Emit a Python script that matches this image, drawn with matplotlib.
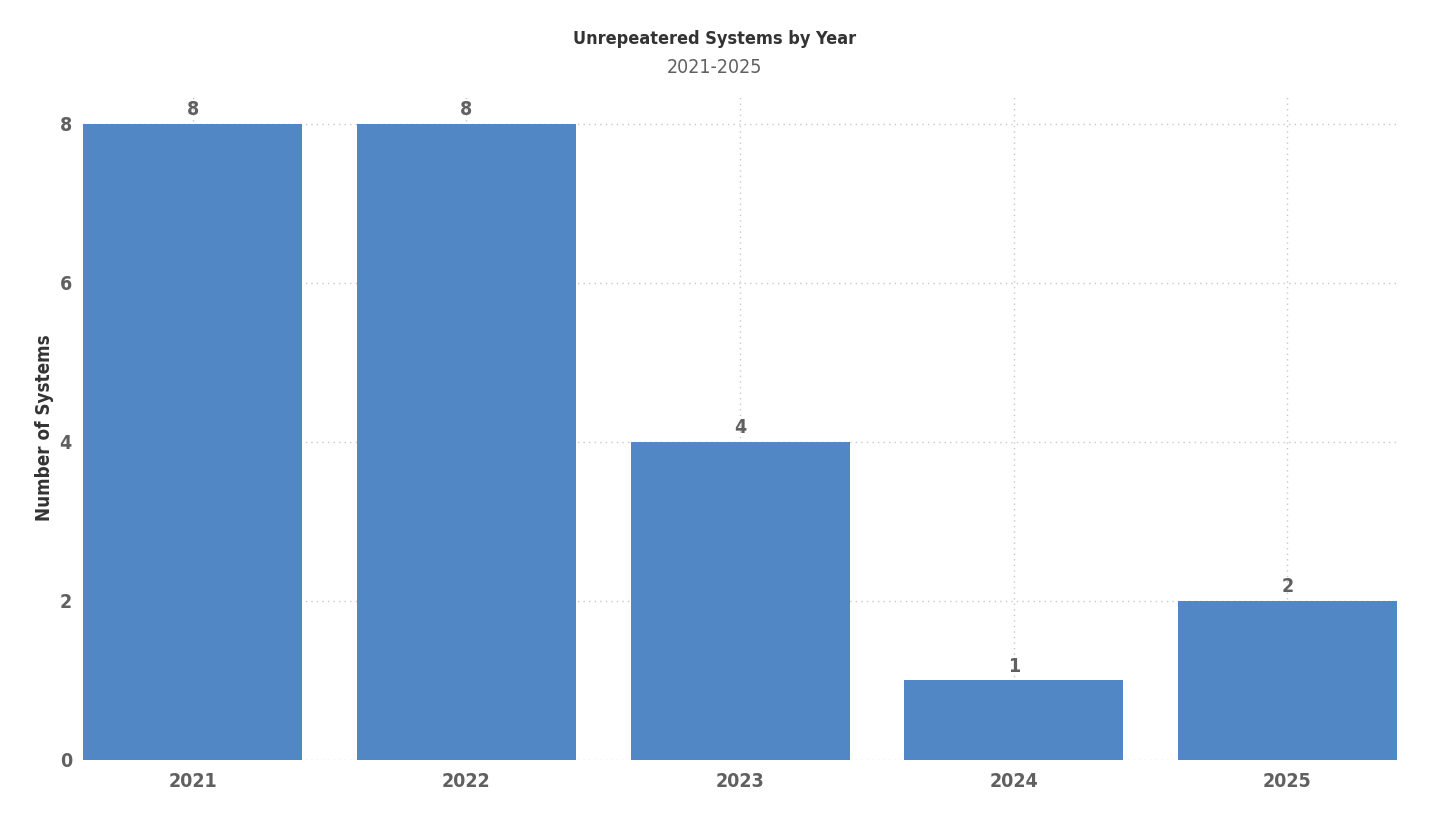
import matplotlib
matplotlib.use('Agg')
import matplotlib.pyplot as plt

years = ['2021', '2022', '2023', '2024', '2025']
systems = [8, 8, 4, 1, 2]
y_ticks = [0, 2, 4, 6, 8]

plt.rcParams['font.family'] = ['DejaVu Sans']
plt.rcParams['font.stretch'] = 'condensed'

cor_barra = '#5287C6'
cor_texto = '#606060'

fig = plt.figure(figsize=(14.29, 8.25), dpi=100)
ax = fig.add_axes([0.0581, 0.0788, 0.9195, 0.806])

x = list(range(len(years)))
ax.bar(x, systems, width=0.8, color=cor_barra, zorder=2)

for i, v in enumerate(systems):
  ax.text(i, v + 0.06, str(v), ha='center', va='bottom', fontsize=14,
          fontweight='bold', color=cor_texto, zorder=3)

ax.set_xlim(-0.4, 4.4)
ax.set_ylim(0, 8.36)
ax.set_xticks(x)
ax.set_xticklabels(years, fontsize=14, fontweight='bold', color=cor_texto)
ax.set_yticks(y_ticks)
ax.set_yticklabels([str(t) for t in y_ticks], fontsize=14, fontweight='bold', color=cor_texto)
ax.tick_params(axis='x', length=0, pad=9)
ax.tick_params(axis='y', length=0, pad=8)

ax.grid(True, linestyle=(0, (1, 3)), color='#c8c8c8', linewidth=1, zorder=0)
for s in ax.spines.values():
  s.set_visible(False)

ax.set_ylabel('Number of Systems', fontsize=13.5, fontweight='bold', color='#333333', labelpad=4)

fig.text(0.5, 0.953, 'Unrepeatered Systems by Year', ha='center', va='center',
         fontsize=13, fontweight='bold', color='#333333')
fig.text(0.5, 0.918, '2021-2025', ha='center', va='center', fontsize=14, color=cor_texto)

fig.savefig('out.png', dpi=100)
